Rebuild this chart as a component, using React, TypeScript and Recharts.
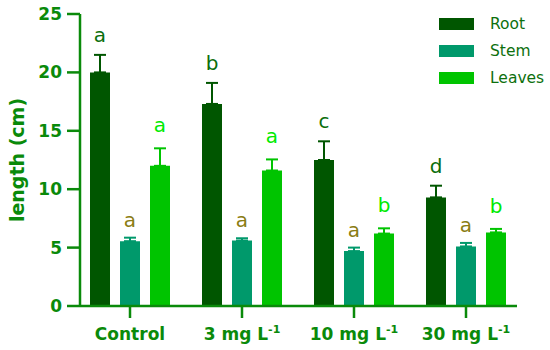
import React from 'react';
import { BarChart, Bar, XAxis, YAxis, ErrorBar, LabelList, Legend } from 'recharts';

// values (cm)
const treatments = ['Control', '3 mg L^-1', '10 mg L^-1', '30 mg L^-1'];
const rootLength = [20.0, 17.3, 12.5, 9.3];
const rootSd = [1.5, 1.8, 1.6, 1.0];
const stemLength = [5.55, 5.6, 4.7, 5.1];
const stemSd = [0.3, 0.2, 0.3, 0.3];
const leavesLength = [12.0, 11.6, 6.2, 6.3];
const leavesSd = [1.5, 0.95, 0.45, 0.3];
const rootLetters = ['a', 'b', 'c', 'd'];
const stemLetters = ['a', 'a', 'a', 'a'];
const leavesLetters = ['a', 'a', 'b', 'b'];
const yTicks = [0, 5, 10, 15, 20, 25];

const data = treatments.map((t, i) => ({
  name: t,
  root: rootLength[i],
  rootErr: [0, rootSd[i]],
  rootSd: rootSd[i],
  rootLetter: rootLetters[i],
  stem: stemLength[i],
  stemErr: [0, stemSd[i]],
  stemSd: stemSd[i],
  stemLetter: stemLetters[i],
  leaves: leavesLength[i],
  leavesErr: [0, leavesSd[i]],
  leavesSd: leavesSd[i],
  leavesLetter: leavesLetters[i],
}));

const AXIS = '#0a8a0a';
const FONT = '"DejaVu Sans", Arial, sans-serif';

const series = [
  { key: 'root', name: 'Root', color: '#005600', letterColor: '#0b6e0b', gap: 13 },
  { key: 'stem', name: 'Stem', color: '#00996b', letterColor: '#8a7c12', gap: 11 },
  { key: 'leaves', name: 'Leaves', color: '#00c400', letterColor: '#00ea00', gap: 16 },
];

const makeLetter = (key: string, color: string, gap: number) => (props: any) => {
  const { x, y, width, height, value, index } = props;
  const row: any = data[index];
  const pxPerUnit = height / row[key];
  const errPx = row[key + 'Sd'] * pxPerUnit;
  return (
    <text
      x={x + width / 2}
      y={y - errPx - gap}
      textAnchor="middle"
      fill={color}
      fontFamily={FONT}
      fontSize={20}
    >
      {value}
    </text>
  );
};

const XTick = (props: any) => {
  const { x, y, payload } = props;
  const [main, sup] = String(payload.value).split('^');
  return (
    <text x={x} y={y} dy={12} textAnchor="middle" fill={AXIS} fontFamily={FONT} fontWeight="bold" fontSize={17}>
      {main}
      {sup && (
        <tspan fontSize={11} dy={-7}>
          {sup}
        </tspan>
      )}
    </text>
  );
};

const LegendBox = () => (
  <div style={{ fontFamily: FONT }}>
    {series.map((s) => (
      <div key={s.key} style={{ display: 'flex', alignItems: 'center', height: 27 }}>
        <div style={{ width: 35, height: 12, background: s.color, marginRight: 16 }} />
        <span style={{ color: '#0d700d', fontSize: 15.5 }}>{s.name}</span>
      </div>
    ))}
  </div>
);

const App = () => (
  <div style={{ position: 'absolute', left: 0, top: 0, width: 550, height: 350, background: '#fff' }}>
    <BarChart
      width={550}
      height={350}
      data={data}
      margin={{ top: 14, right: 33, left: 0, bottom: 14 }}
      barSize={20}
      barGap={10}
    >
      <XAxis
        dataKey="name"
        height={30}
        padding={{ left: -6, right: -5 }}
        axisLine={{ stroke: AXIS, strokeWidth: 2.5 }}
        tickLine={{ stroke: AXIS, strokeWidth: 2.5 }}
        tickSize={12}
        tickMargin={10}
        tick={<XTick />}
        interval={0}
      />
      <YAxis
        width={80}
        domain={[0, 25]}
        ticks={yTicks}
        interval={0}
        axisLine={{ stroke: AXIS, strokeWidth: 2.5 }}
        tickLine={{ stroke: AXIS, strokeWidth: 2.5 }}
        tickSize={13}
        tickMargin={5}
        tick={{ fill: AXIS, fontFamily: FONT, fontWeight: 'bold', fontSize: 17 }}
        label={{
          content: (p: any) => {
            const vb = p.viewBox;
            const cx = 17;
            const cy = vb.y + vb.height / 2;
            return (
              <text
                x={cx}
                y={cy}
                transform={`rotate(-90 ${cx} ${cy})`}
                textAnchor="middle"
                dominantBaseline="central"
                fill={AXIS}
                fontFamily={FONT}
                fontWeight="bold"
                fontSize={19}
              >
                length (cm)
              </text>
            );
          },
        }}
      />
      <Legend
        layout="vertical"
        align="center"
        verticalAlign="middle"
        wrapperStyle={{ top: 10, left: 439, width: 110 }}
        content={<LegendBox />}
      />
      {series.map((s) => (
        <Bar key={s.key} dataKey={s.key} name={s.name} fill={s.color} isAnimationActive={false}>
          <ErrorBar dataKey={s.key + 'Err'} width={6} stroke={s.color} strokeWidth={2} direction="y" />
          <LabelList dataKey={s.key + 'Letter'} content={makeLetter(s.key, s.letterColor, s.gap)} />
        </Bar>
      ))}
    </BarChart>
  </div>
);

export default App;
